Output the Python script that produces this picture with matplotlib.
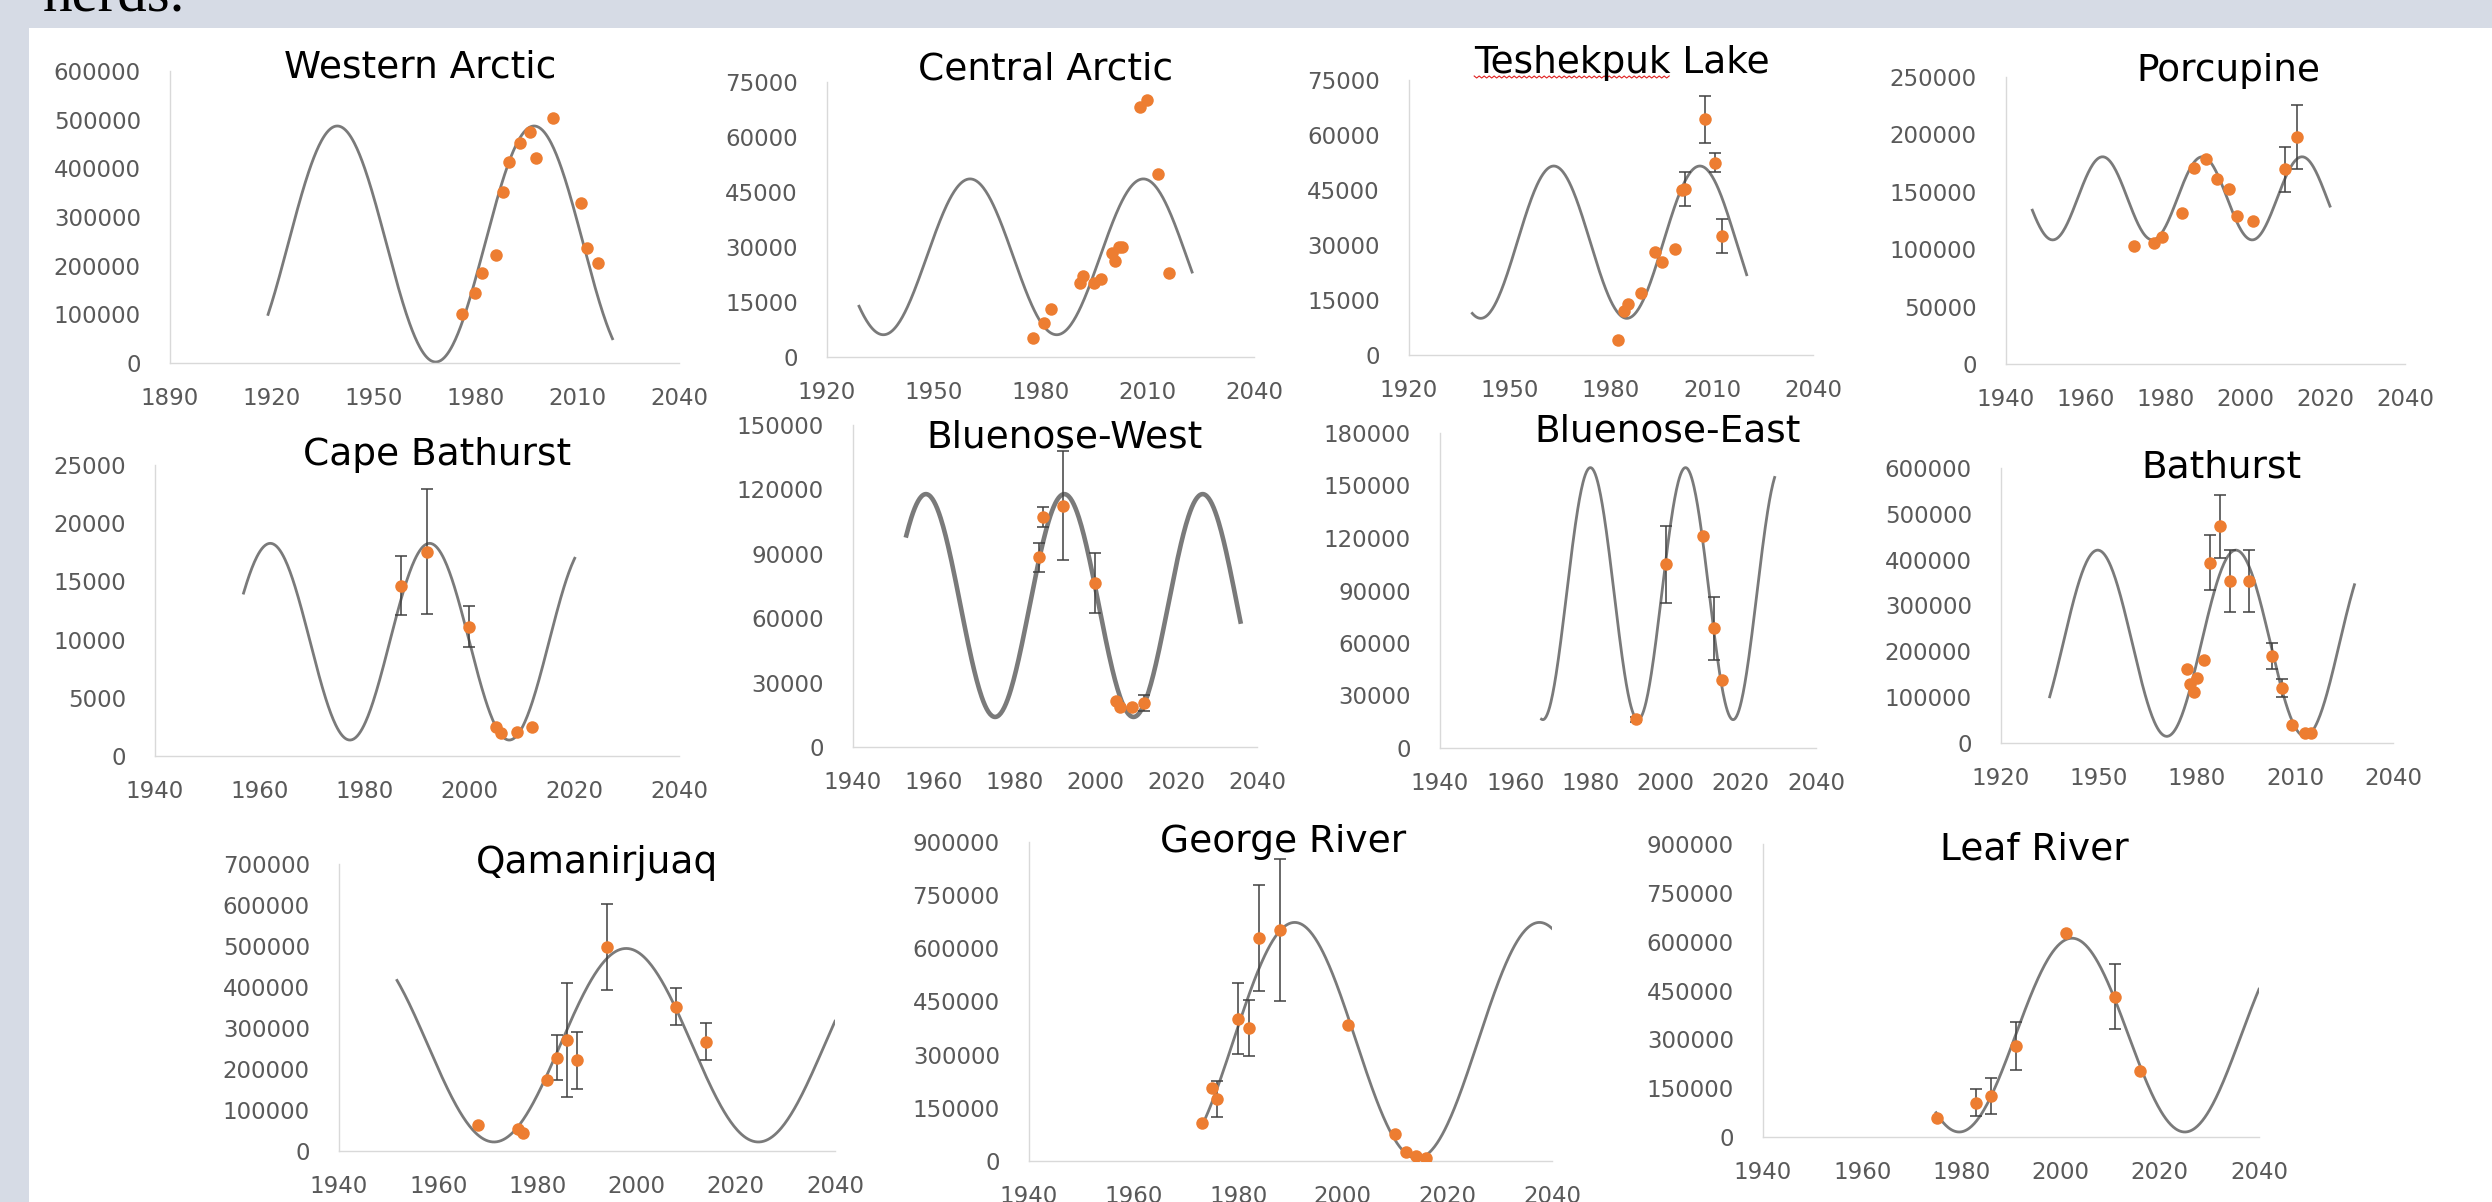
import numpy as np
import matplotlib.pyplot as plt
from matplotlib.patches import Rectangle
from matplotlib.lines import Line2D
from matplotlib.transforms import IdentityTransform

W, H = 2492, 1202

herds = ["Western Arctic", "Central Arctic", "Teshekpuk Lake", "Porcupine",
         "Cape Bathurst", "Bluenose-West", "Bluenose-East", "Bathurst",
         "Qamanirjuaq", "George River", "Leaf River"]

# survey estimates per herd: year, herd size, +/- error (0 = no bar)
wah_year = [1976, 1980, 1982, 1986, 1988, 1990, 1993, 1996, 1998, 2003, 2011, 2013, 2016]
wah_count = [101000, 143000, 184000, 222000, 352000, 412000, 453000, 474000, 422000, 503000, 329000, 236000, 205000]
wah_err = [0, 0, 0, 0, 0, 0, 0, 0, 0, 0, 0, 0, 0]

cah_year = [1978, 1981, 1983, 1991, 1992, 1995, 1997, 2000, 2001, 2002, 2003, 2008, 2010, 2013, 2016]
cah_count = [5200, 9400, 13200, 20100, 22200, 20100, 21300, 28300, 26200, 30100, 30100, 68100, 70000, 50000, 22900]
cah_err = [0, 0, 0, 0, 0, 0, 0, 0, 0, 0, 0, 0, 0, 0, 0]

tch_year = [1982, 1984, 1985, 1989, 1993, 1995, 1999, 2001, 2002, 2008, 2011, 2013]
tch_count = [4100, 12100, 13800, 16800, 28000, 25300, 28800, 45000, 45300, 64300, 52500, 32500]
tch_err = [0, 0, 0, 0, 0, 0, 0, 0, 4700, 6400, 2700, 4700]

pch_year = [1972, 1977, 1979, 1984, 1987, 1990, 1993, 1996, 1998, 2002, 2010, 2013]
pch_count = [103100, 105700, 110400, 131800, 170900, 178200, 160800, 152400, 128900, 124600, 169500, 197900]
pch_err = [0, 0, 0, 0, 0, 0, 0, 0, 0, 0, 19300, 28000]

cbh_year = [1987, 1992, 2000, 2005, 2006, 2009, 2012]
cbh_count = [14640, 17560, 11110, 2520, 1950, 2030, 2520]
cbh_err = [2550, 5370, 1750, 0, 0, 0, 0]

bnw_year = [1986, 1987, 1992, 2000, 2005, 2006, 2009, 2012]
bnw_count = [88300, 107200, 112500, 76500, 21500, 18700, 18700, 20500]
bnw_err = [6900, 4600, 25600, 14100, 0, 0, 0, 3500]

bne_year = [1992, 2000, 2010, 2013, 2015]
bne_count = [16500, 104900, 121100, 68400, 39000]
bne_err = [1500, 21800, 0, 17900, 0]

bth_year = [1977, 1978, 1979, 1980, 1982, 1984, 1987, 1990, 1996, 2003, 2006, 2009, 2013, 2015]
bth_count = [161100, 128400, 110300, 141500, 181400, 393200, 473000, 353300, 353300, 190100, 119700, 39900, 21800, 21800]
bth_err = [0, 0, 0, 0, 0, 60000, 69000, 68000, 68000, 29000, 20000, 0, 0, 0]

qam_year = [1968, 1976, 1977, 1982, 1984, 1986, 1988, 1994, 2008, 2014]
qam_count = [62700, 54500, 44800, 172600, 227900, 271900, 221400, 498200, 351600, 266200]
qam_err = [0, 0, 0, 0, 55000, 139000, 70000, 105000, 45000, 45000]

grh_year = [1973, 1975, 1976, 1980, 1982, 1984, 1988, 2001, 2010, 2012, 2014, 2016]
grh_count = [106400, 205200, 175100, 401000, 376600, 628900, 652400, 384100, 75300, 26400, 14100, 9400]
grh_err = [0, 0, 50000, 100000, 79000, 150600, 201000, 0, 0, 0, 0, 0]

lrh_year = [1975, 1983, 1986, 1991, 2001, 2011, 2016]
lrh_count = [59500, 105700, 125200, 280200, 628000, 431000, 202200]
lrh_err = [0, 41000, 55000, 73000, 0, 100000, 0]

years = [wah_year, cah_year, tch_year, pch_year, cbh_year, bnw_year, bne_year, bth_year, qam_year, grh_year, lrh_year]
counts = [wah_count, cah_count, tch_count, pch_count, cbh_count, bnw_count, bne_count, bth_count, qam_count, grh_count, lrh_count]
errs = [wah_err, cah_err, tch_err, pch_err, cbh_err, bnw_err, bne_err, bth_err, qam_err, grh_err, lrh_err]

# fitted cycle for each herd: peak year, period (yr), midline, amplitude, first/last year drawn
cyc_peak = [1939.3, 1960.2, 1963.0, 1964.2, 1962.0, 1958.05, 1980.0, 1949.6, 1997.9, 1990.8, 2002.3]
cyc_period = [58.0, 48.7, 43.4, 25.0, 30.4, 34.25, 25.3, 42.3, 53.3, 46.8, 45.5]
cyc_mid = [244500, 27320, 30770, 144300, 9820, 65900, 88200, 217650, 258000, 340300, 313000]
cyc_amp = [242500, 21250, 20770, 36200, 8450, 51900, 72000, 203150, 236000, 332800, 297600]
cyc_from = [1918.9, 1929.0, 1938.8, 1946.6, 1956.9, 1953.2, 1967.0, 1934.9, 1951.7, 1973.6, 1974.9]
cyc_to = [2020.4, 2022.6, 2020.3, 2021.2, 2020.1, 2035.9, 2029.0, 2028.2, 2040.0, 2040.0, 2040.0]

# axis ranges
x_lo = [1890, 1920, 1920, 1940, 1940, 1940, 1940, 1920, 1940, 1940, 1940]
x_step = [30, 30, 30, 20, 20, 20, 20, 30, 20, 20, 20]
y_hi = [600000, 75000, 75000, 250000, 25000, 150000, 180000, 600000, 700000, 900000, 900000]
y_step = [100000, 15000, 15000, 50000, 5000, 30000, 30000, 100000, 100000, 150000, 150000]

# panel boxes in pixels: left, right, top, bottom, title centre x, title baseline
boxes = [
    (170, 679, 71, 363, 420, 77),
    (827, 1254, 82, 357, 1046, 80),
    (1409, 1813, 80, 355, 1622, 73),
    (2006, 2405, 77, 364, 2228, 81),
    (155, 679, 465, 756, 437, 465),
    (853, 1257, 425, 747, 1064, 447),
    (1440, 1816, 433, 748, 1668, 441),
    (2001, 2393, 468, 743, 2221, 477),
    (339, 835, 864, 1151, 597, 873),
    (1029, 1552, 842, 1161, 1283, 852),
    (1763, 2259, 844, 1137, 2034, 860),
]

ORANGE = "#ed7d31"
CURVE = "#7a7a7a"
TICK = "#595959"
FONT = "DejaVu Sans"
TITLE_SIZE = 27

fig = plt.figure(figsize=(W / 100, H / 100), dpi=100, facecolor="#d6dbe5")
fig.patches.append(Rectangle((29 / W, 0), 1 - 29 / W, (H - 28) / H, transform=fig.transFigure,
                             facecolor="white", edgecolor="none", zorder=-10))
fig.text(42 / W, 1 - 12 / H, "herds.", family="Liberation Serif", fontsize=42.5,
         ha="left", va="baseline", color="black")

titles = []
for i, name in enumerate(herds):
    l, r, t, b, tx, ty = boxes[i]
    ax = fig.add_axes([l / W, 1 - b / H, (r - l) / W, (b - t) / H])
    ax.patch.set_visible(False)

    t_grid = np.linspace(cyc_from[i], cyc_to[i], 400)
    curve = cyc_mid[i] + cyc_amp[i] * np.cos(2 * np.pi * (t_grid - cyc_peak[i]) / cyc_period[i])
    lw = 3.3 if name == "Bluenose-West" else 2.0
    ax.plot(t_grid, curve, color=CURVE, lw=lw, zorder=2)

    yr = np.array(years[i], dtype=float)
    ct = np.array(counts[i], dtype=float)
    er = np.array(errs[i], dtype=float)
    has = er > 0
    if has.any():
        ax.errorbar(yr[has], ct[has], yerr=er[has], fmt="none", ecolor="#404040",
                    elinewidth=1.1, capsize=4, capthick=1.1, zorder=3)
    ax.plot(yr, ct, "o", color=ORANGE, ms=9, mew=0, zorder=4)

    ax.set_xlim(x_lo[i], 2040)
    ax.set_ylim(0, y_hi[i])
    ax.set_xticks(np.arange(x_lo[i], 2041, x_step[i]))
    ax.set_yticks(np.arange(0, y_hi[i] + 1, y_step[i]))
    for s in ["top", "right"]:
        ax.spines[s].set_visible(False)
    for s in ["left", "bottom"]:
        ax.spines[s].set_color("#d9d9d9")
        ax.spines[s].set_linewidth(1.0)
    ax.tick_params(axis="both", length=0, labelsize=16.5, labelcolor=TICK)
    ax.tick_params(axis="y", pad=21)
    ax.tick_params(axis="x", pad=17)
    for lab in ax.get_xticklabels() + ax.get_yticklabels():
        lab.set_family(FONT)

    titles.append(fig.text(tx / W, 1 - ty / H, name, family=FONT, fontsize=TITLE_SIZE,
                           ha="center", va="baseline", color="black"))

# red spell-check squiggle under "Teshekpuk"
fig.canvas.draw()
rend = fig.canvas.get_renderer()
bb = titles[2].get_window_extent(rend)
probe = fig.text(0, 0, "Teshekpuk", family=FONT, fontsize=TITLE_SIZE)
word_w = probe.get_window_extent(rend).width
probe.remove()
base_y = H - boxes[2][5] - 4
sx = np.arange(bb.x0, bb.x0 + word_w, 2.5)
sy = base_y + np.where(np.arange(len(sx)) % 2 == 0, 1.0, -1.0)
fig.add_artist(Line2D(sx, sy, transform=IdentityTransform(), color="#e02020", lw=0.8))

fig.savefig("out.png", dpi=100, facecolor=fig.get_facecolor())
